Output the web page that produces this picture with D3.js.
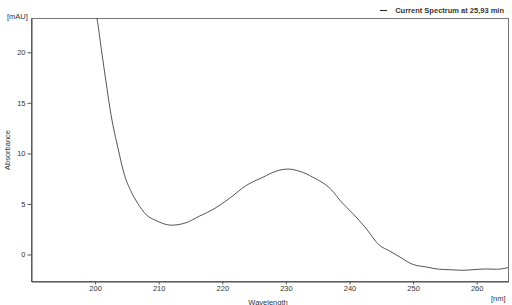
<!DOCTYPE html>
<html>
<head>
<meta charset="utf-8">
<script src="https://cdn.jsdelivr.net/npm/d3@7"></script>
<style>
  html, body { margin: 0; padding: 0; background: #fff; }
  svg { display: block; }
  text { font-family: "Liberation Sans", Arial, sans-serif; fill: #333; }
</style>
</head>
<body>
<svg id="chart" width="512" height="305"></svg>
<script>
// Data
const wavelength = [200.0, 200.37, 201.05, 201.8, 202.6, 203.7, 204.7, 205.8, 206.8, 208.1, 209.7, 212.1, 214.4, 216.5, 218.6, 221.2, 223.9, 226.5, 228.6, 230.4, 232.2, 234.3, 237.2, 238.8, 240.6, 242.5, 244.8, 246.4, 248.0, 250.0, 252.2, 254.2, 255.8, 257.9, 259.5, 261.6, 263.2, 265.0];
const absorbance = [24.3, 23.3, 20.3, 17.0, 13.7, 10.4, 7.8, 6.1, 5.0, 3.9, 3.3, 2.85, 3.1, 3.75, 4.4, 5.5, 6.8, 7.6, 8.2, 8.4, 8.19, 7.6, 6.37, 5.15, 4.0, 2.67, 0.86, 0.3, -0.3, -1.02, -1.29, -1.51, -1.55, -1.61, -1.55, -1.48, -1.51, -1.35];
const xTicks = [200, 210, 220, 230, 240, 250, 260];
const yTicks = [0, 5, 10, 15, 20];
const xDomain = [190, 265];
const yDomain = [-2.67, 23.34];
const seriesName = "Current Spectrum at 25,93 min";

const svg = d3.select("#chart");
const m = { left: 31, top: 18, right: 4, bottom: 24 };
const W = 512, H = 305;
const x = d3.scaleLinear().domain(xDomain).range([m.left, W - m.right]);
const y = d3.scaleLinear().domain(yDomain).range([H - m.bottom, m.top]);

svg.append("defs").append("clipPath").attr("id", "clip")
  .append("rect")
  .attr("x", m.left).attr("y", m.top)
  .attr("width", W - m.right - m.left).attr("height", H - m.bottom - m.top);

// frame
svg.append("rect")
  .attr("x", m.left + 0.5).attr("y", m.top + 0.5)
  .attr("width", W - m.right - m.left).attr("height", H - m.bottom - m.top)
  .attr("fill", "none").attr("stroke", "#777").attr("stroke-width", 1);

// axes
const xAxis = d3.axisBottom(x).tickValues(xTicks).tickSize(3).tickPadding(1).tickSizeOuter(0);
const yAxis = d3.axisLeft(y).tickValues(yTicks).tickSize(4).tickPadding(2).tickSizeOuter(0);

const gx = svg.append("g").attr("transform", `translate(0.5,${H - m.bottom + 0.5})`).call(xAxis);
const gy = svg.append("g").attr("transform", `translate(${m.left + 0.5},0.5)`).call(yAxis);
[gx, gy].forEach(g => {
  g.select(".domain").attr("stroke", "#444");
  g.selectAll(".tick line").attr("stroke", "#555");
  g.selectAll(".tick text").attr("fill", "#333")
    .style("font-family", "'Liberation Sans', Arial, sans-serif").style("font-size", "7.5px");
});

// curve
const line = d3.line()
  .x((d, i) => x(wavelength[i]))
  .y((d, i) => y(absorbance[i]))
  .curve(d3.curveMonotoneX);
svg.append("path")
  .datum(absorbance)
  .attr("clip-path", "url(#clip)")
  .attr("d", line)
  .attr("fill", "none").attr("stroke", "#2a2a2a").attr("stroke-width", 0.8);

// labels
svg.append("text").attr("x", 7).attr("y", 18.5).style("font-size", "7.5px").text("[mAU]");
svg.append("text").attr("x", 491).attr("y", 301).style("font-size", "7.5px").text("[nm]");
svg.append("text").attr("x", 268).attr("y", 304.5).attr("text-anchor", "middle").style("font-size", "7.5px").text("Wavelength");
svg.append("text").attr("transform", "translate(9.5,150) rotate(-90)").attr("text-anchor", "middle").style("font-size", "7.5px").text("Absorbance");

// legend
svg.append("line").attr("x1", 380).attr("x2", 387).attr("y1", 10.5).attr("y2", 10.5).attr("stroke", "#222").attr("stroke-width", 1);
svg.append("text").attr("x", 504).attr("y", 13).attr("text-anchor", "end")
  .style("font-size", "7.5px").style("font-weight", "bold").attr("fill", "#222").text(seriesName);
</script>
</body>
</html>
